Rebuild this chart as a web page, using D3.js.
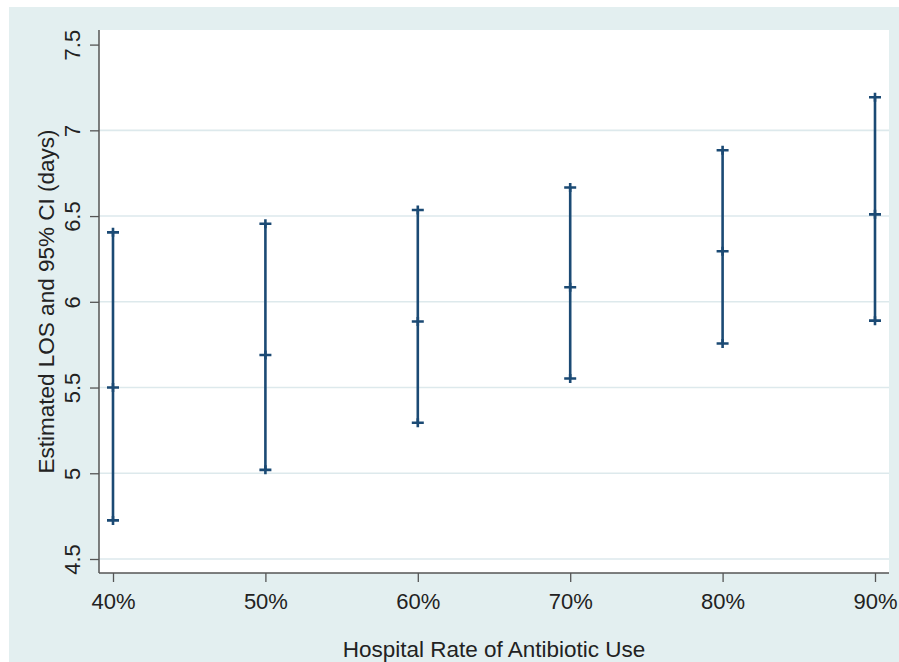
<!DOCTYPE html>
<html lang="en">
<head>
    <meta charset="UTF-8">
    <title>Estimated LOS by hospital rate of antibiotic use</title>
    <script src="https://d3js.org/d3.v7.min.js"></script>
    <style>
        html, body { margin: 0; background: #ffffff; overflow: hidden; }
        svg { display: block; }
        text { font-family: "Liberation Sans", Arial, sans-serif; fill: #222; }
    </style>
</head>
<body>
    <div id="chart"></div>

    <script>
        // values
        var rates = ["40%", "50%", "60%", "70%", "80%", "90%"];
        var estimate = [5.50, 5.69, 5.885, 6.085, 6.295, 6.51];
        var lower = [4.725, 5.02, 5.295, 5.553, 5.757, 5.89];
        var upper = [6.405, 6.455, 6.535, 6.667, 6.884, 7.193];
        var yTicks = [4.5, 5, 5.5, 6, 6.5, 7, 7.5];
        var yGrid = [4.5, 5, 5.5, 6, 6.5, 7];

        var width = 899;
        var height = 662;
        var plot = { left: 99, right: 889, top: 30, bottom: 573 };
        var navy = "#1b4a74";

        var xScale = d3.scalePoint()
            .domain(rates)
            .range([113, 875]);

        var yScale = d3.scaleLinear()
            .domain([4.5, 7.5])
            .range([559, 44.6]);

        var svg = d3.select('#chart').append('svg')
            .attr('width', width)
            .attr('height', height);

        // outer graph region
        svg.append('rect')
            .attr('x', 9).attr('y', 7)
            .attr('width', width - 9).attr('height', height - 7)
            .attr('fill', '#e3eff0');

        // plot region
        svg.append('rect')
            .attr('x', plot.left).attr('y', plot.top)
            .attr('width', plot.right - plot.left)
            .attr('height', plot.bottom - plot.top)
            .attr('fill', '#ffffff');

        // gridlines
        svg.append('g').selectAll('line')
            .data(yGrid)
            .enter().append('line')
                .attr('x1', plot.left).attr('x2', plot.right)
                .attr('y1', d => yScale(d)).attr('y2', d => yScale(d))
                .attr('stroke', '#dde9ec')
                .attr('stroke-width', 1.6);

        // y axis
        var yAxis = svg.append('g')
            .attr('transform', 'translate(' + plot.left + ',0)')
            .call(d3.axisLeft(yScale).tickValues(yTicks).tickSize(9).tickSizeOuter(0)
                .tickFormat(d3.format('')));
        yAxis.select('.domain').remove();
        yAxis.selectAll('.tick line').attr('stroke', '#555').attr('stroke-width', 1.3);
        yAxis.selectAll('.tick text')
            .attr('x', 0).attr('dy', 0)
            .attr('transform', 'translate(-19,0) rotate(-90)')
            .attr('text-anchor', 'middle')
            .style('font-size', '22px')
            .attr('fill', '#222');

        // x axis
        var xAxis = svg.append('g')
            .attr('transform', 'translate(0,' + plot.bottom + ')')
            .call(d3.axisBottom(xScale).tickSize(9).tickSizeOuter(0));
        xAxis.select('.domain').remove();
        xAxis.selectAll('.tick line').attr('stroke', '#555').attr('stroke-width', 1.3);
        xAxis.selectAll('.tick text')
            .attr('y', 36).attr('dy', 0)
            .style('font-size', '22px')
            .attr('fill', '#222');

        // axis lines
        svg.append('line')
            .attr('x1', plot.left).attr('x2', plot.left)
            .attr('y1', plot.top).attr('y2', plot.bottom)
            .attr('stroke', '#555').attr('stroke-width', 1.5);
        svg.append('line')
            .attr('x1', plot.left).attr('x2', plot.right)
            .attr('y1', plot.bottom).attr('y2', plot.bottom)
            .attr('stroke', '#555').attr('stroke-width', 1.5);

        // axis titles
        svg.append('text')
            .attr('x', (xScale(rates[0]) + xScale(rates[rates.length - 1])) / 2)
            .attr('y', 657)
            .attr('text-anchor', 'middle')
            .style('font-size', '22.5px')
            .text('Hospital Rate of Antibiotic Use');

        svg.append('text')
            .attr('transform', 'translate(54,' + ((plot.top + plot.bottom) / 2) + ') rotate(-90)')
            .attr('text-anchor', 'middle')
            .style('font-size', '22.5px')
            .text('Estimated LOS and 95% CI (days)');

        // confidence intervals
        var rows = rates.map((r, i) => ({ rate: r, est: estimate[i], lo: lower[i], hi: upper[i] }));
        var marks = svg.append('g');

        marks.selectAll('line.ci')
            .data(rows)
            .enter().append('line')
                .attr('class', 'ci')
                .attr('x1', d => xScale(d.rate)).attr('x2', d => xScale(d.rate))
                .attr('y1', d => yScale(d.lo)).attr('y2', d => yScale(d.hi))
                .attr('stroke', navy)
                .attr('stroke-width', 2.6);

        // plus markers at lower, estimate and upper
        var pts = [];
        rows.forEach(d => { pts.push([d.rate, d.lo], [d.rate, d.est], [d.rate, d.hi]); });
        marks.selectAll('path.plus')
            .data(pts)
            .enter().append('path')
                .attr('class', 'plus')
                .attr('transform', d => 'translate(' + xScale(d[0]) + ',' + yScale(d[1]) + ')')
                .attr('d', 'M-6,0H6M0,-4.5V4.5')
                .attr('stroke', navy)
                .attr('stroke-width', 2.6)
                .attr('fill', 'none');
    </script>
</body>
</html>
